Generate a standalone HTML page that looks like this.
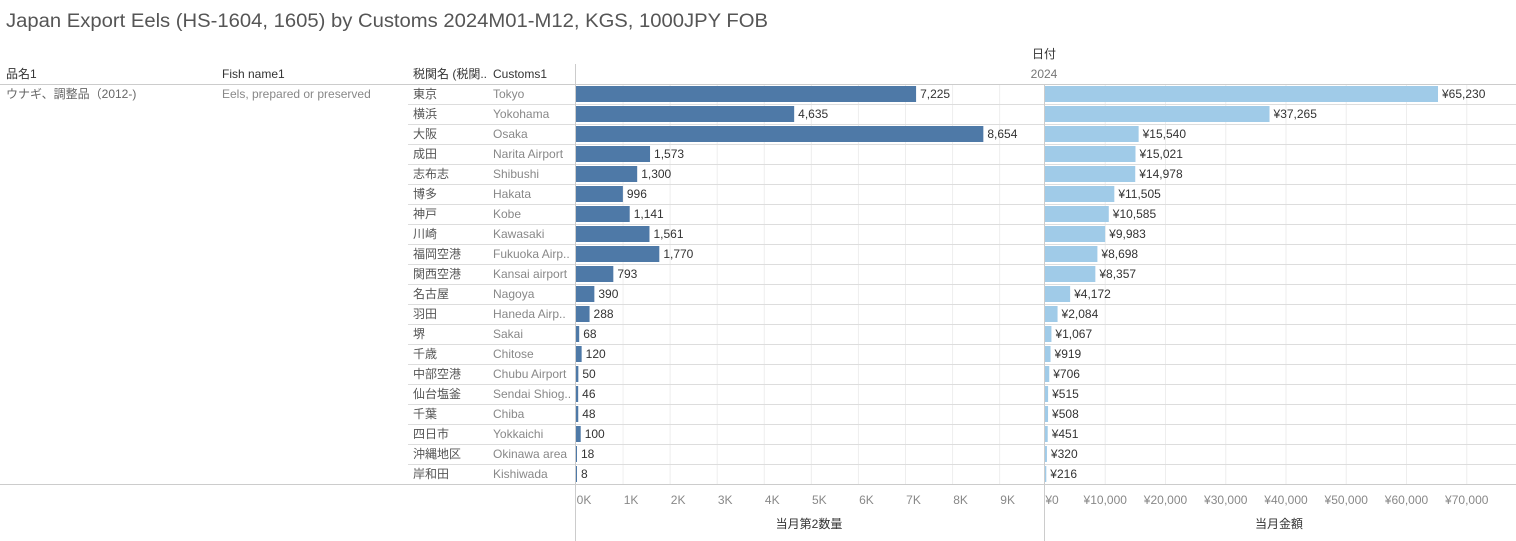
<!DOCTYPE html>
<html><head><meta charset="utf-8"><style>
html,body{margin:0;padding:0;background:#fff;}
svg{display:block;font-family:"Liberation Sans","Noto Sans CJK JP",sans-serif;}
</style></head><body>
<svg id="chart" width="1516" height="541" viewBox="0 0 1516 541" xmlns="http://www.w3.org/2000/svg">
<text x="6" y="27" font-size="19" fill="#555" textLength="762" lengthAdjust="spacingAndGlyphs">Japan Export Eels (HS-1604, 1605) by Customs 2024M01-M12, KGS, 1000JPY FOB</text>
<text x="1044" y="58" font-size="12" fill="#333" text-anchor="middle">日付</text>
<text x="1044" y="78" font-size="12" fill="#777" text-anchor="middle">2024</text>
<text x="6" y="78" font-size="12" fill="#333">品名1</text>
<text x="222" y="78" font-size="12" fill="#333">Fish name1</text>
<text x="413" y="78" font-size="12" fill="#333">税関名 (税関..</text>
<text x="493" y="78" font-size="12" fill="#333">Customs1</text>
<text x="6" y="98" font-size="12" fill="#666">ウナギ、調整品（2012-)</text>
<text x="222" y="98" font-size="12" fill="#888">Eels, prepared or preserved</text>
<g id="grid"></g>
<g id="rows"></g>
<g id="bars"></g>
<line x1="0" y1="84.5" x2="1516" y2="84.5" stroke="#ccc"/>
<line x1="0" y1="484.5" x2="1516" y2="484.5" stroke="#ccc"/>
<line x1="575.5" y1="64" x2="575.5" y2="541" stroke="#ccc"/>
<line x1="1044.5" y1="84" x2="1044.5" y2="541" stroke="#ccc"/>
<text x="809" y="528" font-size="12" fill="#333" text-anchor="middle">当月第2数量</text>
<text x="1279" y="528" font-size="12" fill="#333" text-anchor="middle">当月金額</text>
</svg>
<script>
const jpNames = ["東京","横浜","大阪","成田","志布志","博多","神戸","川崎","福岡空港","関西空港","名古屋","羽田","堺","千歳","中部空港","仙台塩釜","千葉","四日市","沖縄地区","岸和田"];
const enNames = ["Tokyo","Yokohama","Osaka","Narita Airport","Shibushi","Hakata","Kobe","Kawasaki","Fukuoka Airp..","Kansai airport","Nagoya","Haneda Airp..","Sakai","Chitose","Chubu Airport","Sendai Shiog..","Chiba","Yokkaichi","Okinawa area","Kishiwada"];
const quantity = [7225,4635,8654,1573,1300,996,1141,1561,1770,793,390,288,68,120,50,46,48,100,18,8];
const amount = [65230,37265,15540,15021,14978,11505,10585,9983,8698,8357,4172,2084,1067,919,706,515,508,451,320,216];
const qtyTicks = [0,1000,2000,3000,4000,5000,6000,7000,8000,9000];
const qtyTickLabels = ["0K","1K","2K","3K","4K","5K","6K","7K","8K","9K"];
const amtTicks = [0,10000,20000,30000,40000,50000,60000,70000];
const amtTickLabels = ["¥0","¥10,000","¥20,000","¥30,000","¥40,000","¥50,000","¥60,000","¥70,000"];

const NS="http://www.w3.org/2000/svg";
const qx = v => 576 + v*0.04707;
const ax = v => 1045 + v*0.006025;
const rowY = i => 84 + i*20;
function mk(tag, attrs, parent, txt){const e=document.createElementNS(NS,tag);for(const k in attrs)e.setAttribute(k,attrs[k]);if(txt!==undefined)e.textContent=txt;parent.appendChild(e);return e;}
const grid=document.getElementById('grid'), rows=document.getElementById('rows'), bars=document.getElementById('bars');
const svg=document.getElementById('chart');
qtyTicks.forEach((t,i)=>{
  const x=qx(t);
  if(t>0){const l=mk('line',{x1:x,y1:84,x2:x,y2:484,stroke:'#eee'},grid);
  
  }
  const tx=mk('text',{x:x+8,y:504,'font-size':12,fill:'#888','text-anchor':'middle'},svg,qtyTickLabels[i]);
  
  
});
amtTicks.forEach((t,i)=>{
  const x=ax(t);
  if(t>0){const l=mk('line',{x1:x,y1:84,x2:x,y2:484,stroke:'#eee'},grid);
  
  }
  const tx=mk('text',{x:t===0?x+7:x,y:504,'font-size':12,fill:'#888','text-anchor':'middle'},svg,amtTickLabels[i]);
  
  
});
jpNames.forEach((n,i)=>{
  const y=rowY(i);
  if(i>0){const l=mk('line',{x1:408,y1:y+0.5,x2:1516,y2:y+0.5,stroke:'#ddd'},rows);
  
  }
  const t1=mk('text',{x:413,y:y+14,'font-size':12,fill:'#555'},rows,n);
  
  
  const t2=mk('text',{x:493,y:y+14,'font-size':12,fill:'#888'},rows,enNames[i]);
  
  
  const w1=Math.max(1,qx(quantity[i])-qx(0));
  const b1=mk('rect',{x:qx(0),y:y+2,width:w1,height:16,fill:'#4e79a7'},bars);
  
  
  const l1=mk('text',{x:qx(0)+w1+4,y:y+14,'font-size':12,fill:'#333'},bars,quantity[i].toLocaleString('en-US'));
  
  
  const w2=Math.max(1,ax(amount[i])-ax(0));
  const b2=mk('rect',{x:ax(0),y:y+2,width:w2,height:16,fill:'#a0cbe8'},bars);
  
  
  const l2=mk('text',{x:ax(0)+w2+4,y:y+14,'font-size':12,fill:'#333'},bars,'¥'+amount[i].toLocaleString('en-US'));
  
  
});
</script>
</body></html>
